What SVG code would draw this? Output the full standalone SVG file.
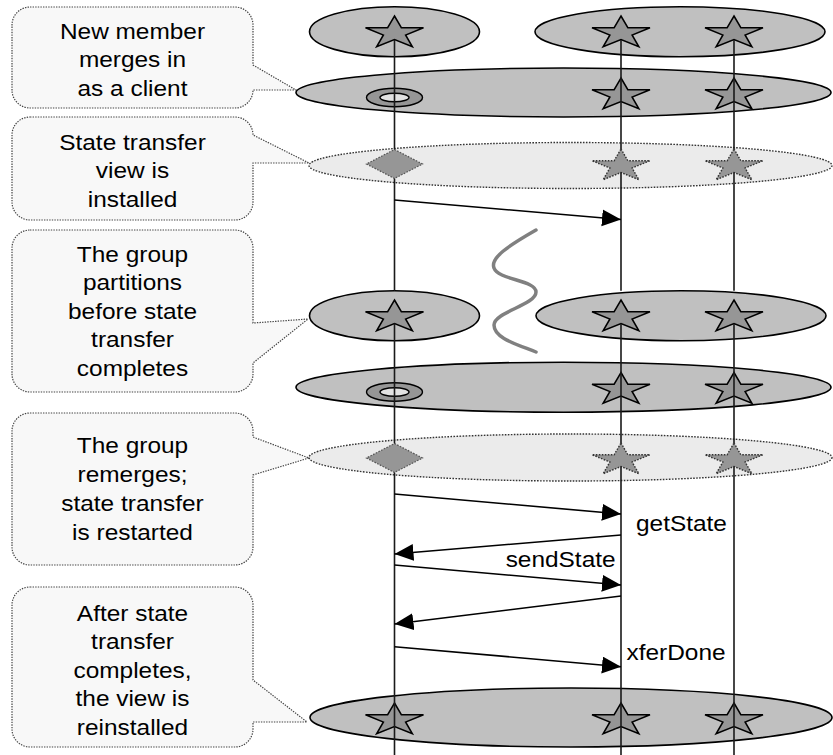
<svg xmlns="http://www.w3.org/2000/svg" xmlns:xlink="http://www.w3.org/1999/xlink" width="833" height="755" viewBox="0 0 833 755">
  <style>
    .view { fill: #c0c0c0; stroke: #000; stroke-width: 1.6; }
    .pending { fill: #ebebeb; stroke: #333; stroke-width: 1.4; stroke-dasharray: 1.6 1.4; }
    .star { fill: #969696; stroke: #000; stroke-width: 1.5; stroke-linejoin: miter; }
    .star-dot { fill: #969696; stroke: #333; stroke-width: 1.4; stroke-dasharray: 1.6 1.4; }
    .diamond { fill: #969696; stroke: #555; stroke-width: 1.2; stroke-dasharray: 1.6 1.4; }
    .ring-out { fill: #969696; stroke: #000; stroke-width: 1.4; }
    .ring-in { fill: #e2e2e2; stroke: #000; stroke-width: 1.4; }
    .callout { fill: #f8f8f8; stroke: #444; stroke-width: 1.2; stroke-dasharray: 1.4 1.2; }
    .lbl { font-family: "Liberation Sans", Arial, sans-serif; font-size: 22px; fill: #000; }
    .life { stroke: #1a1a1a; stroke-width: 1.6; fill: none; }
    .msg { stroke: #000; stroke-width: 1.6; fill: none; marker-end: url(#head); }
    .split { stroke: #808080; stroke-width: 3.5; fill: none; stroke-linecap: round; }
  </style>
  <defs>
    <path id="starShape" d="M0,-17 L6.85,-5.25 L29,-5.25 L11.08,2 L17.9,13.75 L0,6.5 L-17.9,13.75 L-11.08,2 L-29,-5.25 L-6.85,-5.25 Z"/>
    <path id="diamondShape" d="M0,-14.5 L28,0 L0,14.5 L-28,0 Z"/>
    <g id="ring">
      <ellipse class="ring-out" cx="0" cy="0" rx="28" ry="9.2"/>
      <ellipse class="ring-in" cx="0" cy="0" rx="14.5" ry="4.3"/>
    </g>
    <marker id="head" markerUnits="userSpaceOnUse" markerWidth="20" markerHeight="18" refX="19" refY="8.5" orient="auto">
      <path d="M0,0 L19,8.5 L0,17 Z" fill="#000"/>
    </marker>
  </defs>

  <!-- callouts -->
  <g id="note-client">
    <path class="callout" d="M30,7 H235 A18,18 0 0 1 253,25 V65 L296,90 L253,90 A18,18 0 0 1 235,108 H30 A18,18 0 0 1 12,90 V25 A18,18 0 0 1 30,7 Z"/>
    <text class="lbl" text-anchor="middle" transform="matrix(1.11 0 0 1 132.5 0)"><tspan x="0" y="39">New member</tspan><tspan x="0" y="67.5">merges in</tspan><tspan x="0" y="96">as a client</tspan></text>
  </g>
  <g id="note-transfer-view">
    <path class="callout" d="M30,117 H235 A18,18 0 0 1 253,135 L309,163 L253,163 V202 A18,18 0 0 1 235,220 H30 A18,18 0 0 1 12,202 V135 A18,18 0 0 1 30,117 Z"/>
    <text class="lbl" text-anchor="middle" transform="matrix(1.11 0 0 1 132.5 0)"><tspan x="0" y="150">State transfer</tspan><tspan x="0" y="178.5">view is</tspan><tspan x="0" y="207">installed</tspan></text>
  </g>
  <g id="note-partition">
    <path class="callout" d="M30,230 H235 A18,18 0 0 1 253,248 V323 L308,319 L253,363 V374 A18,18 0 0 1 235,392 H30 A18,18 0 0 1 12,374 V248 A18,18 0 0 1 30,230 Z"/>
    <text class="lbl" text-anchor="middle" transform="matrix(1.11 0 0 1 132.5 0)"><tspan x="0" y="262">The group</tspan><tspan x="0" y="290.5">partitions</tspan><tspan x="0" y="319">before state</tspan><tspan x="0" y="347.5">transfer</tspan><tspan x="0" y="376">completes</tspan></text>
  </g>
  <g id="note-remerge">
    <path class="callout" d="M30,413 H235 A18,18 0 0 1 253,431 V437 L309,458 L253,475 V547 A18,18 0 0 1 235,565 H30 A18,18 0 0 1 12,547 V431 A18,18 0 0 1 30,413 Z"/>
    <text class="lbl" text-anchor="middle" transform="matrix(1.11 0 0 1 132.5 0)"><tspan x="0" y="453.5">The group</tspan><tspan x="0" y="482.5">remerges;</tspan><tspan x="0" y="511.5">state transfer</tspan><tspan x="0" y="540.5">is restarted</tspan></text>
  </g>
  <g id="note-reinstall">
    <path class="callout" d="M30,587 H235 A18,18 0 0 1 253,605 V680 L307,722 L253,722 V729 A18,18 0 0 1 235,747 H30 A18,18 0 0 1 12,729 V605 A18,18 0 0 1 30,587 Z"/>
    <text class="lbl" text-anchor="middle" transform="matrix(1.11 0 0 1 132.5 0)"><tspan x="0" y="621">After state</tspan><tspan x="0" y="649.5">transfer</tspan><tspan x="0" y="678">completes,</tspan><tspan x="0" y="706.5">the view is</tspan><tspan x="0" y="735">reinstalled</tspan></text>
  </g>

  <!-- views, top to bottom -->
  <g id="view-initial-a">
    <ellipse class="view" cx="394.5" cy="31.7" rx="85" ry="25"/>
    <use href="#starShape" class="star" x="394.5" y="33"/>
  </g>
  <g id="view-initial-b">
    <ellipse class="view" cx="680" cy="31.7" rx="145" ry="25"/>
    <use href="#starShape" class="star" x="621" y="33"/>
    <use href="#starShape" class="star" x="734" y="33"/>
  </g>
  <g id="view-merged">
    <ellipse class="view" cx="563.5" cy="92.5" rx="267.5" ry="24.5"/>
    <use href="#ring" x="394.5" y="97.5"/>
    <use href="#starShape" class="star" x="621" y="95"/>
    <use href="#starShape" class="star" x="734" y="95"/>
  </g>
  <g id="view-transfer">
    <ellipse class="pending" cx="570.5" cy="165.5" rx="261.5" ry="23"/>
    <use href="#diamondShape" class="diamond" x="394.5" y="164"/>
    <use href="#starShape" class="star-dot" x="621" y="166"/>
    <use href="#starShape" class="star-dot" x="734" y="166"/>
  </g>
  <g id="view-partition-a">
    <ellipse class="view" cx="394.5" cy="315.7" rx="85" ry="25"/>
    <use href="#starShape" class="star" x="394.5" y="317"/>
  </g>
  <g id="view-partition-b">
    <ellipse class="view" cx="681" cy="315.7" rx="145" ry="25"/>
    <use href="#starShape" class="star" x="621" y="317"/>
    <use href="#starShape" class="star" x="734" y="317"/>
  </g>
  <g id="view-remerged">
    <ellipse class="view" cx="563.5" cy="387.2" rx="267.5" ry="25"/>
    <use href="#ring" x="394.5" y="392"/>
    <use href="#starShape" class="star" x="621" y="389.5"/>
    <use href="#starShape" class="star" x="734" y="389.5"/>
  </g>
  <g id="view-transfer-retry">
    <ellipse class="pending" cx="570.5" cy="457.5" rx="261.5" ry="23.5"/>
    <use href="#diamondShape" class="diamond" x="394.5" y="458"/>
    <use href="#starShape" class="star-dot" x="621" y="460"/>
    <use href="#starShape" class="star-dot" x="734" y="460"/>
  </g>
  <g id="view-final">
    <ellipse class="view" cx="571" cy="717.5" rx="261" ry="29.5"/>
    <use href="#starShape" class="star" x="394.5" y="720"/>
    <use href="#starShape" class="star" x="621" y="720"/>
    <use href="#starShape" class="star" x="734" y="720"/>
  </g>

  <!-- partition break -->
  <path id="partition-break" class="split" d="M536,230 C508,246 490,258 494,268 C498,280 536,280 536,292 C536,305 494,312 494,325 C494,338 516,344 536,352"/>

  <!-- lifelines and messages -->
  <g id="connectors">
    <path class="life" d="M394.5,40 V149.5 M394.5,178.5 V290.7 M394.5,323.5 V443.5 M394.5,472.5 V755"/>
    <path class="life" d="M621,40 V149 M621,172.5 V290.7 M621,323.5 V443 M621,466.5 V755"/>
    <path class="life" d="M734,40 V149 M734,172.5 V290.7 M734,323.5 V443 M734,466.5 V755"/>
    <line class="msg" x1="394.5" y1="200" x2="621" y2="219.5"/>
    <line class="msg" x1="394.5" y1="494" x2="621" y2="514"/>
    <line class="msg" x1="621" y1="535" x2="394.5" y2="554"/>
    <line class="msg" x1="394.5" y1="565" x2="621" y2="585"/>
    <line class="msg" x1="621" y1="596" x2="394.5" y2="624"/>
    <line class="msg" x1="394.5" y1="646.7" x2="621" y2="666.7"/>
    <text class="lbl" transform="matrix(1.11 0 0 1 636 0)" x="0" y="530.7">getState</text>
    <text class="lbl" text-anchor="end" transform="matrix(1.11 0 0 1 615.6 0)" x="0" y="566.7">sendState</text>
    <text class="lbl" transform="matrix(1.11 0 0 1 626.5 0)" x="0" y="660">xferDone</text>
  </g>
</svg>
